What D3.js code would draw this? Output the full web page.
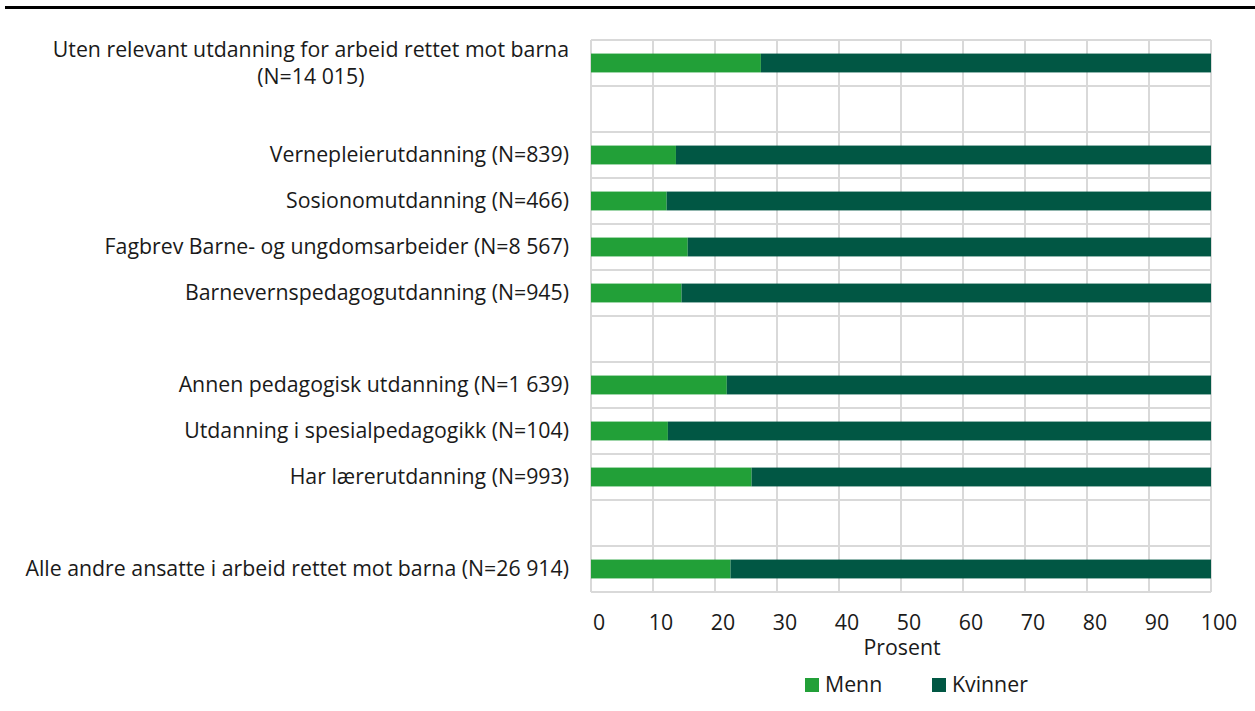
<!DOCTYPE html>
<html>
<head>
<meta charset="utf-8">
<script src="https://cdn.jsdelivr.net/npm/d3@7"></script>
<style>
  body { margin: 0; background: #fff; }
  svg text { font-family: "Open Sans", "Noto Sans", sans-serif; fill: #1a1a1a; }
</style>
</head>
<body>
<div id="chart"></div>
<script>
var svgWidth = 1255;
var svgHeight = 711;

// rows top to bottom, "" = empty spacer row
var categories = [
  "Uten relevant utdanning for arbeid rettet mot barna|(N=14 015)",
  "",
  "Vernepleierutdanning (N=839)",
  "Sosionomutdanning (N=466)",
  "Fagbrev Barne- og ungdomsarbeider (N=8 567)",
  "Barnevernspedagogutdanning (N=945)",
  "",
  "Annen pedagogisk utdanning (N=1 639)",
  "Utdanning i spesialpedagogikk (N=104)",
  "Har lærerutdanning (N=993)",
  "",
  "Alle andre ansatte i arbeid rettet mot barna (N=26 914)"
];
var menn =     [27.4, null, 13.7, 12.2, 15.6, 14.6, null, 21.9, 12.4, 25.9, null, 22.5];
var kvinner =  [72.6, null, 86.3, 87.8, 84.4, 85.4, null, 78.1, 87.6, 74.1, null, 77.5];
var xTicks = [0, 10, 20, 30, 40, 50, 60, 70, 80, 90, 100];
var seriesNames = ["Menn", "Kvinner"];
var colors = ["#22a038", "#015744"];

var fontSize = "21.3px";

var margin = { top: 40, left: 591, right: 44, bottom: 119 };
var width = svgWidth - margin.left - margin.right;
var height = svgHeight - margin.top - margin.bottom;

var svg = d3.select("#chart").append("svg")
  .attr("width", svgWidth)
  .attr("height", svgHeight);

// top rule
svg.append("rect")
  .attr("x", 5).attr("y", 6)
  .attr("width", svgWidth - 5).attr("height", 3)
  .attr("fill", "#000");

var g = svg.append("g")
  .attr("transform", `translate(${margin.left}, ${margin.top})`);

var x = d3.scaleLinear().domain([0, 100]).range([0, width]);
var y = d3.scaleBand().domain(d3.range(categories.length)).range([0, height]);

// grid: vertical lines
g.selectAll(".vgrid")
  .data(xTicks)
  .enter().append("line")
  .attr("x1", d => x(d)).attr("x2", d => x(d))
  .attr("y1", 0).attr("y2", height)
  .attr("stroke", "#d9d9d9").attr("stroke-width", 2);

// grid: horizontal band lines
g.selectAll(".hgrid")
  .data(d3.range(categories.length + 1))
  .enter().append("line")
  .attr("x1", 0).attr("x2", width)
  .attr("y1", d => d * y.step()).attr("y2", d => d * y.step())
  .attr("stroke", "#d9d9d9").attr("stroke-width", 2);

var barH = y.bandwidth() * 0.41;

// stacked bars
categories.forEach(function(c, i) {
  if (menn[i] == null) return;
  var yc = y(i) + y.bandwidth() / 2;
  g.append("rect")
    .attr("x", x(0)).attr("y", yc - barH / 2)
    .attr("width", x(menn[i]) - x(0)).attr("height", barH)
    .attr("fill", colors[0]);
  g.append("rect")
    .attr("x", x(menn[i])).attr("y", yc - barH / 2)
    .attr("width", x(menn[i] + kvinner[i]) - x(menn[i])).attr("height", barH)
    .attr("fill", colors[1]);
});

// category labels
categories.forEach(function(c, i) {
  if (!c) return;
  var yc = y(i) + y.bandwidth() / 2;
  var lines = c.split("|");
  if (lines.length === 1) {
    g.append("text")
      .attr("x", -22).attr("y", yc)
      .attr("dy", "0.35em")
      .attr("text-anchor", "end")
      .style("font-size", fontSize)
      .text(c);
  } else {
    var t = g.append("text")
      .attr("text-anchor", "middle")
      .style("font-size", fontSize);
    var lineH = 27;
    var spans = lines.map(function(l, k) {
      return t.append("tspan").text(l)
        .attr("x", 0)
        .attr("y", yc + (k - (lines.length - 1) / 2) * lineH)
        .attr("dy", "0.35em");
    });
    // centre the block so its widest line ends at the label edge
    var w = d3.max(spans, s => s.node().getComputedTextLength());
    spans.forEach(s => s.attr("x", -22 - w / 2));
  }
});

// x axis labels
var xAxis = g.append("g")
  .attr("transform", `translate(0, ${height})`);
xAxis.selectAll("text")
  .data(xTicks)
  .enter().append("text")
  .attr("x", d => x(d) + 8)
  .attr("y", 38)
  .attr("text-anchor", "middle")
  .style("font-size", fontSize)
  .text(d => d);

g.append("text")
  .attr("x", width / 2 + 1)
  .attr("y", height + 63)
  .attr("text-anchor", "middle")
  .style("font-size", fontSize)
  .text("Prosent");

// legend
var legendX = [805, 932];
var legend = svg.append("g");
seriesNames.forEach(function(name, i) {
  legend.append("rect")
    .attr("x", legendX[i]).attr("y", 678)
    .attr("width", 14).attr("height", 14)
    .attr("fill", colors[i]);
  legend.append("text")
    .attr("x", legendX[i] + 20).attr("y", 685)
    .attr("dy", "0.35em")
    .style("font-size", fontSize)
    .text(name);
});
</script>
</body>
</html>
